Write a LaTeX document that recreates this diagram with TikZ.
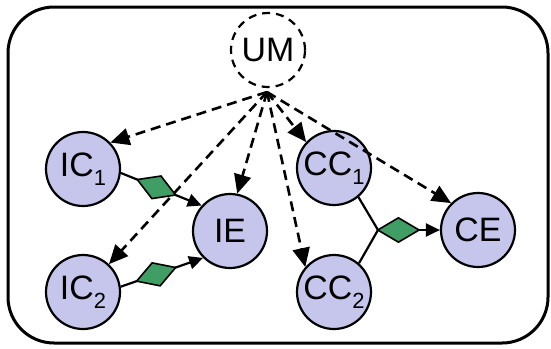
\documentclass[tikz,border=0pt]{standalone}
\usepackage{fontspec}
\setmainfont{Liberation Sans}
\usetikzlibrary{arrows.meta,shapes.geometric}
\definecolor{nodefill}{RGB}{198,198,236}
\definecolor{gemgreen}{RGB}{64,158,100}
\newcommand{\sub}[1]{\raisebox{-0.28em}{\fontsize{22}{22}\selectfont #1}}
\begin{document}
\begin{tikzpicture}[x=1bp,y=-1bp,
  ent/.style={circle, draw, line width=2.2bp, fill=nodefill, minimum size=74bp, inner sep=0pt, font=\fontsize{34}{40}\selectfont},
  dep/.style={line width=2.6bp, dash pattern=on 10bp off 6bp, -{Triangle[length=19bp,width=17bp]}},
  link/.style={line width=2.2bp, -{Triangle[length=14bp,width=13bp]}},
  gem/.style={diamond, draw, line width=1.6bp, fill=gemgreen, minimum width=42bp, minimum height=25bp, inner sep=0pt, sloped}
]
\useasboundingbox (0,0) rectangle (551,348);
\draw[line width=3bp, rounded corners=46bp] (8,7) rectangle (548,343);

\node[ent, fill=none, dash pattern=on 8bp off 6bp] (um) at (268,50) {UM};
\node[ent] (ic1) at (83,169) {IC\sub{1}};
\node[ent] (ic2) at (83,292) {IC\sub{2}};
\node[ent] (ie) at (230,231) {IE};
\node[ent] (cc1) at (334,168) {CC\sub{1}};
\node[ent] (cc2) at (334,292) {CC\sub{2}};
\node[ent] (ce) at (478,230) {CE};

\coordinate (src) at (267,92);
\coordinate (j) at (378,230);

\draw[dep] (src) -- (ic1.44);
\draw[dep] (src) -- (ie.79);
\draw[dep] (src) -- (ic2.47);
\draw[dep] (src) -- (cc1.137);
\draw[dep] (src) -- (cc2.139);
\draw[dep] (src) -- (ce.135);

\draw[link] (ic1.-6) -- node[gem, pos=0.44] (g1) {} (ie.138);
\draw[link] (ic2.8) -- node[gem, pos=0.43] (g2) {} (ie.225);
\draw[line width=2.2bp] (cc1.-50) -- (j) -- (cc2.49);
\draw[link] (j) -- node[gem, pos=0.33] (g3) {} (ce.west);
\end{tikzpicture}
\end{document}
